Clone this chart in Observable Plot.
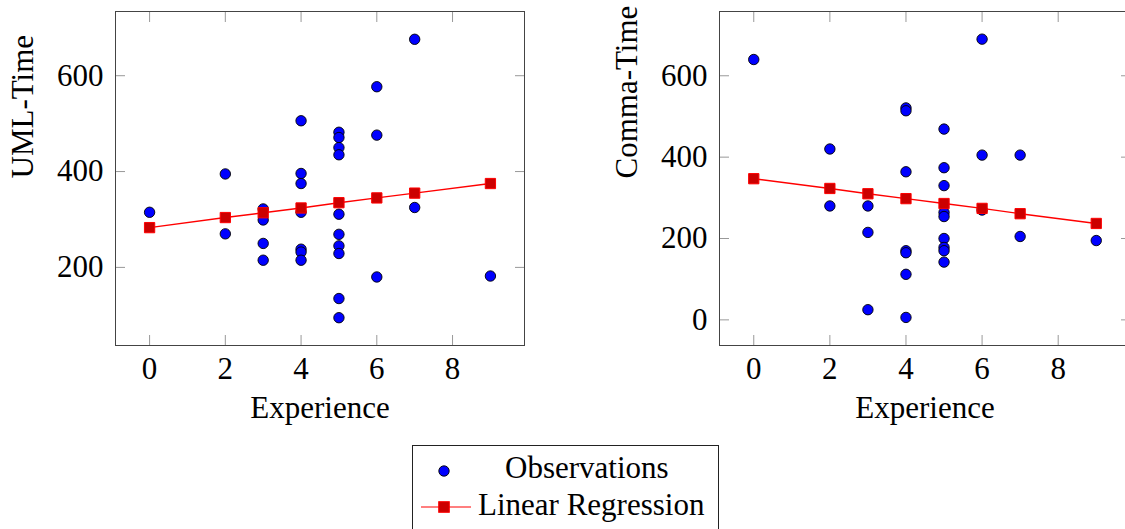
<!DOCTYPE html>
<html><head><meta charset="utf-8">
<script src="https://cdn.jsdelivr.net/npm/d3@7"></script>
<script src="https://cdn.jsdelivr.net/npm/@observablehq/plot@0.6"></script>
<style>
html,body{margin:0;padding:0;background:#fff;}
body{width:1125px;height:529px;overflow:hidden;position:relative;font-family:"Liberation Serif","Times New Roman",serif;}
.panel{position:absolute;top:0;}
.panel svg{max-width:none !important;}
</style></head><body>
<div id="left" class="panel" style="left:0px;width:560px"></div>
<div id="right" class="panel" style="left:600px;width:540px"></div>
<div id="legend" style="position:absolute;left:412px;top:445px;"></div>
<script>
// ---- data ----
const xLabel = "Experience";
const yLabels = ["UML-Time", "Comma-Time"];
const seriesNames = ["Observations", "Linear Regression"];
const xTicks = [0, 2, 4, 6, 8];
const umlTicks = [200, 400, 600];
const commaTicks = [0, 200, 400, 600];

const umlX    = [0, 2, 2, 3, 3, 3, 3, 4, 4, 4, 4, 4, 4, 4, 5, 5, 5, 5, 5, 5, 5, 5, 5, 5, 6, 6, 6, 7, 7, 9];
const umlTime = [315, 395, 270, 322, 299, 250, 215, 506, 396, 375, 315, 238, 232, 215, 482, 471, 450, 435, 311, 269, 245, 229, 135, 95, 577, 476, 180, 676, 325, 182];

const commaX    = [0, 2, 2, 3, 3, 3, 4, 4, 4, 4, 4, 4, 4, 5, 5, 5, 5, 5, 5, 5, 5, 5, 6, 6, 6, 7, 7, 9];
const commaTime = [640, 420, 280, 280, 215, 25, 521, 514, 364, 170, 165, 112, 6, 469, 374, 330, 264, 254, 200, 178, 170, 142, 690, 405, 270, 405, 205, 195];

const regX     = [0, 2, 3, 4, 5, 6, 7, 9];
const umlFit   = [283, 304, 314, 324, 335, 345, 355, 375];
const commaFit = [347, 323, 310, 298, 286, 274, 261, 237];

// ---- style ----
const FONT = "'Liberation Serif','Times New Roman',serif";
const FS = 31;
const TICK = "#999";
const FRAME = "#444";
const BLUE = "#0000ff";
const RED = "#ff0000";
const DARKRED = "#cc0000";

function panel({xs, ys, fit, yTicks, yLabel, yDomain, width, marginLeft, marginRight}) {
  const obs = xs.map((x, i) => ({x, y: ys[i]}));
  const reg = regX.map((x, i) => ({x, y: fit[i]}));
  const blank = () => "";
  return Plot.plot({
    width, height: 430,
    marginLeft, marginRight, marginTop: 11, marginBottom: 85,
    style: {fontFamily: FONT, fontSize: FS + "px", background: "transparent", overflow: "visible", maxWidth: "none"},
    x: {domain: [-0.9, 9.9]},
    y: {domain: yDomain},
    marks: [
      Plot.axisX(xTicks, {anchor: "bottom", tickSize: 10, dy: -10, tickFormat: blank, label: null, stroke: TICK}),
      Plot.axisX(xTicks, {anchor: "top", tickSize: 10, dy: 10, tickFormat: blank, label: null, stroke: TICK}),
      Plot.axisY(yTicks, {anchor: "left", tickSize: 10, dx: 10, tickFormat: blank, label: null, stroke: TICK}),
      Plot.axisY(yTicks, {anchor: "right", tickSize: 10, dx: -10, tickFormat: blank, label: null, stroke: TICK}),
      Plot.axisX(xTicks, {anchor: "bottom", tickSize: 0, tickPadding: 11, label: null, fill: "#000", fontSize: FS}),
      Plot.axisY(yTicks, {anchor: "left", tickSize: 0, tickPadding: 12, label: null, fill: "#000", fontSize: FS}),
      Plot.frame({stroke: FRAME, strokeWidth: 1}),
      Plot.dot(obs, {x: "x", y: "y", r: 5.2, fill: BLUE, stroke: "#000", strokeWidth: 0.9}),
      Plot.line(reg, {x: "x", y: "y", stroke: RED, strokeWidth: 1.4}),
      Plot.dot(reg, {x: "x", y: "y", symbol: "square", r: 5.8, fill: DARKRED, stroke: RED, strokeWidth: 1}),
      Plot.text([xLabel], {text: d => d, frameAnchor: "bottom", dy: 72, fontSize: FS, fill: "#000"}),
      Plot.text([yLabel], {text: d => d, frameAnchor: "left", dx: -92, rotate: -90, fontSize: FS, fill: "#000"})
    ]
  });
}

document.getElementById("left").append(panel({
  xs: umlX, ys: umlTime, fit: umlFit, yTicks: umlTicks, yLabel: yLabels[0],
  yDomain: [37, 734], width: 560, marginLeft: 115, marginRight: 36
}));
document.getElementById("right").append(panel({
  xs: commaX, ys: commaTime, fit: commaFit, yTicks: commaTicks, yLabel: yLabels[1],
  yDomain: [-63, 758], width: 540, marginLeft: 119, marginRight: 10
}));

// ---- legend ----
const lg = d3.select("#legend").append("svg")
  .attr("width", 310).attr("height", 90)
  .style("display", "block").style("font-family", FONT).style("font-size", FS + "px");
lg.append("rect").attr("x", 0.5).attr("y", 0.5).attr("width", 306).attr("height", 120)
  .attr("fill", "#fff").attr("stroke", "#222").attr("stroke-width", 1);
lg.append("circle").attr("cx", 32).attr("cy", 26).attr("r", 5.2)
  .attr("fill", BLUE).attr("stroke", "#000").attr("stroke-width", 0.9);
lg.append("text").attr("x", 93).attr("y", 33).text(seriesNames[0]);
lg.append("line").attr("x1", 9).attr("x2", 59).attr("y1", 62).attr("y2", 62)
  .attr("stroke", RED).attr("stroke-width", 1.2);
lg.append("rect").attr("x", 32 - 5.3).attr("y", 62 - 5.3).attr("width", 10.6).attr("height", 10.6)
  .attr("fill", DARKRED).attr("stroke", RED).attr("stroke-width", 1);
lg.append("text").attr("x", 66).attr("y", 70).text(seriesNames[1]);
</script>
</body></html>
